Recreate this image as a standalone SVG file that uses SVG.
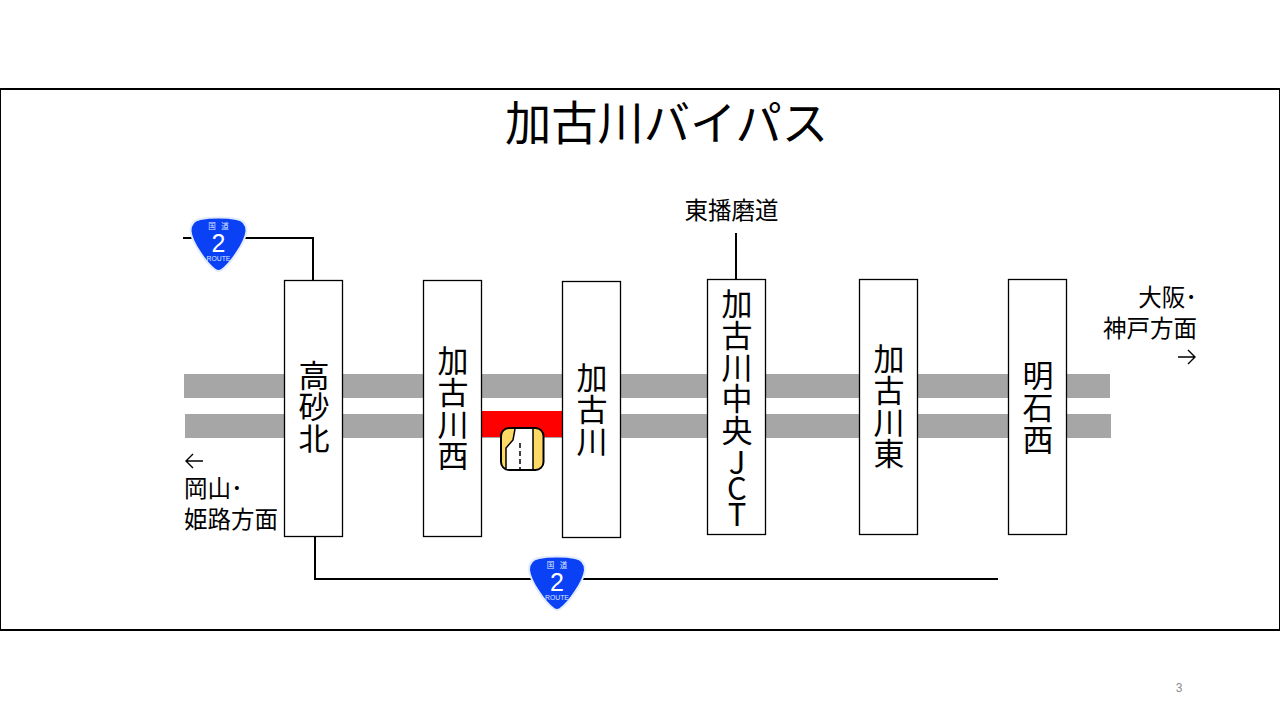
<svg xmlns="http://www.w3.org/2000/svg" width="1280" height="720" viewBox="0 0 1280 720">
<style>
text{font-family:"Noto Sans CJK JP","Noto Sans",sans-serif;fill:#000}
.box{fill:#fff;stroke:#000;stroke-width:1.3}
.v{font-size:31px;writing-mode:vertical-rl;text-orientation:upright;letter-spacing:.7px}
.tight{letter-spacing:-5px}
.l{font-size:23.5px}
.wire{fill:none;stroke:#000;stroke-width:2}
.road{fill:#a6a6a6}
.thin{fill:none;stroke:#000;stroke-width:1.4}
.sh{fill:#0b41f5;stroke:#e4ecfb;stroke-width:2}
.st{fill:#dfe8ff;text-anchor:middle}
.sl{font-family:"Liberation Sans",sans-serif}
</style>
<defs>
<g id="shield">
<path class="sh" d="M-18,-26 C-8,-28 8,-28 18,-26 C25,-25 28,-20 28,-14 C27,-3 12,19 3,25 Q0,27 -3,25 C-12,19 -27,-3 -28,-14 C-28,-20 -25,-25 -18,-26Z"/>
<text class="st" x="-6.500" y="-16" font-size="7.500">国</text>
<text class="st" x="6.500" y="-16" font-size="7.500">道</text>
<text class="st sl" x="0" y="7" font-size="25" style="fill:#fff">2</text>
<text class="st sl" x="0" y="15.500" font-size="6.800">ROUTE</text>
</g>
</defs>
<rect width="1280" height="720" fill="#fff"/>
<rect x="0" y="89" width="1280" height="541" fill="#fff" stroke="#000" stroke-width="2"/>
<text x="666.500" y="140" font-size="46.300" text-anchor="middle">加古川バイパス</text>
<g id="roads">
<rect class="road" x="184" y="374" width="926" height="24"/>
<rect class="road" x="185" y="414" width="926" height="24"/>
<rect x="481" y="411" width="82" height="26" fill="#ff0000"/>
</g>
<g id="connectors">
<path class="wire" d="M183,238H313V281"/>
<path class="wire" d="M315,537V579H998"/>
<path class="wire" d="M736,233V280"/>
</g>
<g id="route2-top"><use href="#shield" x="218.500" y="245"/></g>
<g id="route2-bottom"><use href="#shield" x="557" y="584"/></g>
<g id="ic-icon">
<rect x="501" y="428" width="42.500" height="42" rx="8" fill="#ffd966" stroke="#000" stroke-width="2"/>
<path d="M506,469V448L513,440L515,429H533V469Z" fill="#fff"/>
<path d="M506,469V448L513,440L515,429M533,429V469" fill="none" stroke="#000" stroke-width="1.500"/>
<path d="M520,443V469" fill="none" stroke="#000" stroke-width="1.500" stroke-dasharray="5 3"/>
</g>
<g id="n1"><rect class="box" x="284.500" y="280.500" width="58" height="256"/>
<text class="v" x="314" y="359.500">高砂北</text></g>
<g id="n2"><rect class="box" x="423.500" y="280.500" width="58" height="256"/>
<text class="v" x="453" y="345">加古川西</text></g>
<g id="n3"><rect class="box" x="562.500" y="281.500" width="58" height="256"/>
<text class="v" x="592" y="362">加古川</text></g>
<g id="n4"><rect class="box" x="707.500" y="279.500" width="58" height="255"/>
<text class="v" x="737" y="288">加古川中央<tspan class="tight">JCT</tspan></text></g>
<g id="n5"><rect class="box" x="859.500" y="279.500" width="58" height="255"/>
<text class="v" x="889" y="343">加古川東</text></g>
<g id="n6"><rect class="box" x="1008.500" y="279.500" width="58" height="255"/>
<text class="v" x="1038" y="360">明石西</text></g>
<text class="l" x="731.500" y="219" text-anchor="middle">東播磨道</text>
<text class="l" text-anchor="end"><tspan x="1197" y="306">大阪･</tspan><tspan x="1197" y="337">神戸方面</tspan></text>
<path class="thin" d="M1178,357H1195M1188,350L1195,357L1188,364"/>
<path class="thin" d="M203,461H186M193,454L186,461L193,468"/>
<text class="l"><tspan x="184" y="497">岡山･</tspan><tspan x="184" y="528">姫路方面</tspan></text>
<text x="1179" y="692" font-size="12" text-anchor="middle" class="sl" style="fill:#8c8c8c">3</text>
</svg>
